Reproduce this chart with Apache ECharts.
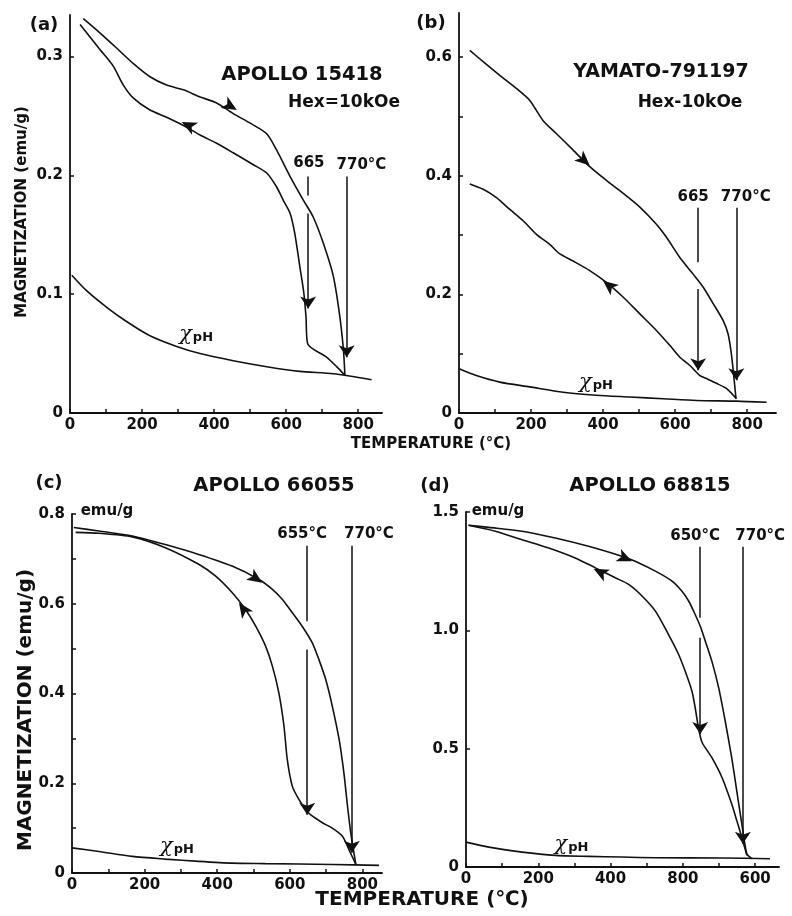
<!DOCTYPE html>
<html><head><meta charset="utf-8">
<script src="https://cdn.jsdelivr.net/npm/echarts@6/dist/echarts.min.js"></script>
<style>html,body{margin:0;padding:0;background:#fff}#c{width:792px;height:916px}</style>
</head><body><div id="c"></div>
<script>
// ---------- Panel (a) APOLLO 15418 ----------
const heatA = [[37,0.332],[83,0.320],[130,0.307],[176,0.294],[222,0.283],[268,0.276],[315,0.272],[361,0.266],[407,0.261],[453,0.252],[500,0.244],[546,0.235],[574,0.221],[611,0.199],[648,0.179],[675,0.165],[703,0.143],[731,0.115],[749,0.081],[759,0.053],[763,0.032]];
const coolA = [[28,0.327],[83,0.306],[120,0.292],[148,0.276],[176,0.265],[222,0.255],[268,0.249],[315,0.242],[361,0.234],[407,0.227],[453,0.219],[509,0.209],[546,0.202],[574,0.190],[592,0.179],[611,0.168],[624,0.151],[638,0.123],[649,0.101],[655,0.081],[660,0.058],[712,0.047],[740,0.039],[762,0.032]];
const chiA = [[5,0.116],[46,0.103],[102,0.089],[157,0.077],[222,0.065],[296,0.056],[361,0.050],[453,0.044],[546,0.039],[638,0.035],[731,0.033],[837,0.028]];
const vArrowsA = [{t:661, segs:[[0.199,0.183],[0.168,0.088]]},{t:768, segs:[[0.199,0.047]]}];
const notesA = [{t:663,m:0.210,text:'665'},{t:809,m:0.209,text:'770°C'}];
const chiPosA = [350,0.066];
const dirArrowsA = [[463,0.255],[310,0.245]];

// ---------- Panel (b) YAMATO-791197 ----------
const heatB = [[30,0.611],[67,0.592],[113,0.569],[159,0.547],[196,0.527],[233,0.493],[270,0.471],[317,0.443],[363,0.415],[409,0.392],[456,0.370],[502,0.347],[548,0.318],[576,0.296],[613,0.262],[650,0.234],[678,0.212],[706,0.184],[733,0.156],[747,0.133],[756,0.100],[763,0.061],[769,0.024]];
const coolB = [[30,0.386],[67,0.377],[104,0.363],[141,0.343],[178,0.324],[215,0.301],[252,0.284],[280,0.268],[317,0.256],[363,0.240],[409,0.220],[456,0.195],[502,0.167],[548,0.139],[585,0.114],[613,0.094],[641,0.080],[669,0.063],[687,0.058],[715,0.050],[743,0.041],[770,0.024]];
const chiB = [[2,0.074],[48,0.063],[113,0.052],[196,0.044],[289,0.035],[381,0.030],[474,0.027],[567,0.024],[659,0.021],[770,0.020],[854,0.018]];
const vArrowsB = [{t:664, segs:[[0.346,0.254],[0.209,0.072]]},{t:770, segs:[[0.346,0.055]]}];
const notesB = [{t:650,m:0.363,text:'665'},{t:796,m:0.363,text:'770°C'}];
const chiPosB = [380,0.052];
const dirArrowsB = [[363,0.417],[400,0.223]];

// ---------- Panel (c) APOLLO 66055 ----------
const heatC = [[5,0.770],[74,0.762],[166,0.751],[257,0.732],[349,0.710],[441,0.684],[515,0.654],[552,0.632],[579,0.610],[607,0.580],[634,0.550],[662,0.513],[680,0.476],[699,0.431],[717,0.372],[736,0.297],[749,0.223],[759,0.149],[768,0.089],[782,0.019]];
const coolC = [[10,0.759],[74,0.757],[166,0.749],[257,0.725],[349,0.688],[395,0.662],[441,0.625],[478,0.587],[506,0.550],[533,0.506],[552,0.461],[570,0.401],[584,0.327],[593,0.253],[607,0.193],[625,0.164],[644,0.141],[657,0.130],[690,0.112],[717,0.100],[745,0.082],[763,0.052],[782,0.019]];
const chiC = [[0,0.056],[74,0.048],[166,0.037],[257,0.031],[349,0.026],[441,0.022],[533,0.021],[717,0.019],[846,0.017]];
const vArrowsC = [{t:648, segs:[[0.729,0.561],[0.498,0.130]]},{t:771, segs:[[0.729,0.045]]}];
const notesC = [{t:634,m:0.755,text:'655°C'},{t:818,m:0.755,text:'770°C'}];
const chiPosC = [289,0.058];
const dirArrowsC = [[524,0.647],[460,0.602]];

// ---------- Panel (d) APOLLO 68815 ----------
const heatD = [[7,1.444],[63,1.435],[155,1.419],[247,1.390],[339,1.355],[431,1.313],[468,1.292],[524,1.250],[570,1.208],[597,1.166],[616,1.124],[634,1.067],[648,1.018],[662,0.955],[680,0.871],[699,0.758],[717,0.618],[735,0.463],[749,0.323],[763,0.183],[777,0.056],[791,0.035]];
const coolD = [[7,1.444],[81,1.419],[155,1.383],[229,1.348],[302,1.306],[358,1.264],[413,1.222],[450,1.194],[487,1.145],[524,1.081],[560,0.983],[588,0.899],[606,0.829],[625,0.744],[634,0.674],[643,0.590],[653,0.527],[680,0.463],[708,0.379],[735,0.267],[749,0.197],[763,0.126],[777,0.049]];
const chiD = [[0,0.105],[63,0.084],[155,0.063],[247,0.049],[339,0.045],[431,0.042],[524,0.039],[708,0.038],[841,0.035]];
const vArrowsD = [{t:648, segs:[[1.353,1.053],[0.969,0.562]]},{t:766, segs:[[1.353,0.098]]}];
const notesD = [{t:634,m:1.397,text:'650°C'},{t:814,m:1.397,text:'770°C'}];
const chiPosD = [292,0.094];
const dirArrowsD = [[459,1.292],[353,1.260]];

// ---------- Axis ticks / labels ----------
const xTicks = [0,100,200,300,400,500,600,700,800];
const xLabelVals = [0,200,400,600,800];
const xLabelsABC = ['0','200','400','600','800'];
const xLabelsD = ['0','200','400','800','600'];
const yTicksA = [0.1,0.2,0.3], yLabelsA = [0,0.1,0.2,0.3];
const yTicksB = [0.1,0.2,0.3,0.4,0.5,0.6], yLabelsB = [0,0.2,0.4,0.6];
const yTicksC = [0.1,0.2,0.3,0.4,0.5,0.6,0.7,0.8], yLabelsC = [0,0.2,0.4,0.6,0.8];
const yTicksD = [0.5,1.0,1.5], yLabelsD = [0,0.5,1.0,1.5];
const xMaxes = [866, 880, 854, 866];
const yMaxes = [0.335, 0.674, 0.8, 1.5];

const panels = [
  {heat:heatA, cool:coolA, chi:chiA, vArrows:vArrowsA, notes:notesA, chiPos:chiPosA, dir:dirArrowsA, yT:yTicksA, yL:yLabelsA, xL:xLabelsABC},
  {heat:heatB, cool:coolB, chi:chiB, vArrows:vArrowsB, notes:notesB, chiPos:chiPosB, dir:dirArrowsB, yT:yTicksB, yL:yLabelsB, xL:xLabelsABC},
  {heat:heatC, cool:coolC, chi:chiC, vArrows:vArrowsC, notes:notesC, chiPos:chiPosC, dir:dirArrowsC, yT:yTicksC, yL:yLabelsC, xL:xLabelsABC},
  {heat:heatD, cool:coolD, chi:chiD, vArrows:vArrowsD, notes:notesD, chiPos:chiPosD, dir:dirArrowsD, yT:yTicksD, yL:yLabelsD, xL:xLabelsD}
];
// rotation of the small direction arrowheads (heating, cooling), degrees
const dirAngles = [[-121,63],[-132,51],[-124,35],[-114,63]];

const grids = [
  {left:70, top:15, width:312, height:398},
  {left:459, top:13, width:317, height:400},
  {left:72, top:514, width:310, height:359},
  {left:466, top:512, width:313, height:355}
];

const INK = '#111';
const FONT = '"DejaVu Sans", sans-serif';
const xAxes = [], yAxes = [], series = [];
panels.forEach((p, i) => {
  xAxes.push({
    type:'value', gridIndex:i, min:0, max:xMaxes[i],
    axisLine:{lineStyle:{color:INK, width:1.8}},
    axisTick:{inside:true, length:4, customValues:xTicks, lineStyle:{color:INK, width:1.5}},
    axisLabel:{customValues:xLabelVals, color:INK, fontFamily:FONT, fontWeight:'bold', fontSize:15, margin:5,
      formatter:(v) => p.xL[xLabelVals.indexOf(v)] ?? ''},
    splitLine:{show:false}
  });
  yAxes.push({
    type:'value', gridIndex:i, min:0, max:yMaxes[i],
    axisLine:{show:true, lineStyle:{color:INK, width:1.8}},
    axisTick:{show:true, inside:true, length:4, customValues:p.yT, lineStyle:{color:INK, width:1.5}},
    axisLabel:{customValues:p.yL, color:INK, fontFamily:FONT, fontWeight:'bold', fontSize:15, margin:7,
      formatter:(v) => v === 0 ? '0' : v.toFixed(1)},
    splitLine:{show:false}
  });
  const base = {xAxisIndex:i, yAxisIndex:i, animation:false, silent:true};
  const line = (data) => Object.assign({type:'line', data, symbol:'none', smooth:0.25, lineStyle:{color:INK, width:1.6}}, base);
  const heat = line(p.heat);
  const mlData = [];
  p.vArrows.forEach(a => {
    a.segs.forEach((s, k) => {
      const last = k === a.segs.length - 1;
      mlData.push([{coord:[a.t, s[0]], symbol:'none'}, {coord:[a.t, s[1]], symbol: last ? 'arrow' : 'none'}]);
    });
  });
  heat.markLine = {silent:true, animation:false, symbol:['none','arrow'], symbolSize:12, precision:4,
    label:{show:false}, lineStyle:{color:INK, type:'solid', width:1.5, opacity:1}, itemStyle:{color:INK},
    emphasis:{disabled:true}, data:mlData};
  series.push(heat, line(p.cool), line(p.chi));
  series.push(Object.assign({type:'scatter', symbol:'arrow', symbolSize:[10,15], z:5,
    itemStyle:{color:INK, opacity:1},
    data:p.dir.map((d, k) => ({value:d, symbolRotate:dirAngles[i][k]}))}, base));
  series.push(Object.assign({type:'scatter', symbolSize:1, itemStyle:{color:'rgba(0,0,0,0)', opacity:1},
    label:{show:true, position:'inside', color:INK, opacity:1, fontFamily:FONT, fontWeight:'bold', fontSize:15,
      formatter:(q) => q.data.name},
    data:p.notes.map(n => ({value:[n.t, n.m], name:n.text}))}, base));
  series.push(Object.assign({type:'scatter', symbolSize:1, itemStyle:{color:'rgba(0,0,0,0)', opacity:1},
    label:{show:true, position:'inside', color:INK, opacity:1, formatter:'{c|χ}{s|pH}',
      rich:{c:{fontSize:21, fontFamily:'"DejaVu Serif", serif', fontStyle:'italic', color:INK},
            s:{fontSize:13, fontWeight:'bold', fontFamily:FONT, color:INK, padding:[6,0,0,1]}}},
    data:[{value:p.chiPos}]}, base));
});

function txt(text, x, y, size, opts) {
  opts = opts || {};
  return {type:'text', x, y, rotation:opts.rot || 0, silent:true,
    style:{text, fill:INK, font:(opts.weight || 'bold') + ' ' + size + 'px ' + FONT,
      textAlign:'center', textVerticalAlign:'middle', align:'center', verticalAlign:'middle'}};
}
const graphics = [
  txt('(a)', 44, 25, 18), txt('APOLLO 15418', 302, 75, 19.5), txt('Hex=10kOe', 344, 103, 17),
  txt('(b)', 431, 23, 18), txt('YAMATO-791197', 661, 72, 19), txt('Hex-10kOe', 690, 103, 17),
  txt('TEMPERATURE (°C)', 431, 444, 15),
  txt('MAGNETIZATION (emu/g)', 22, 212, 15, {rot:Math.PI/2}),
  txt('(c)', 49, 483, 18), txt('APOLLO 66055', 274, 486, 19.5),
  txt('(d)', 435, 486, 18), txt('APOLLO 68815', 650, 486, 19.5),
  txt('emu/g', 107, 511, 15), txt('emu/g', 498, 511, 15),
  txt('MAGNETIZATION (emu/g)', 26, 710, 20, {rot:Math.PI/2}),
  txt('TEMPERATURE (℃)', 422, 900, 20)
];

const chart = echarts.init(document.getElementById('c'), null, {renderer:'canvas'});
chart.setOption({
  backgroundColor:'#fff', animation:false,
  grid:grids, xAxis:xAxes, yAxis:yAxes, series, graphic:graphics
});
</script></body></html>
